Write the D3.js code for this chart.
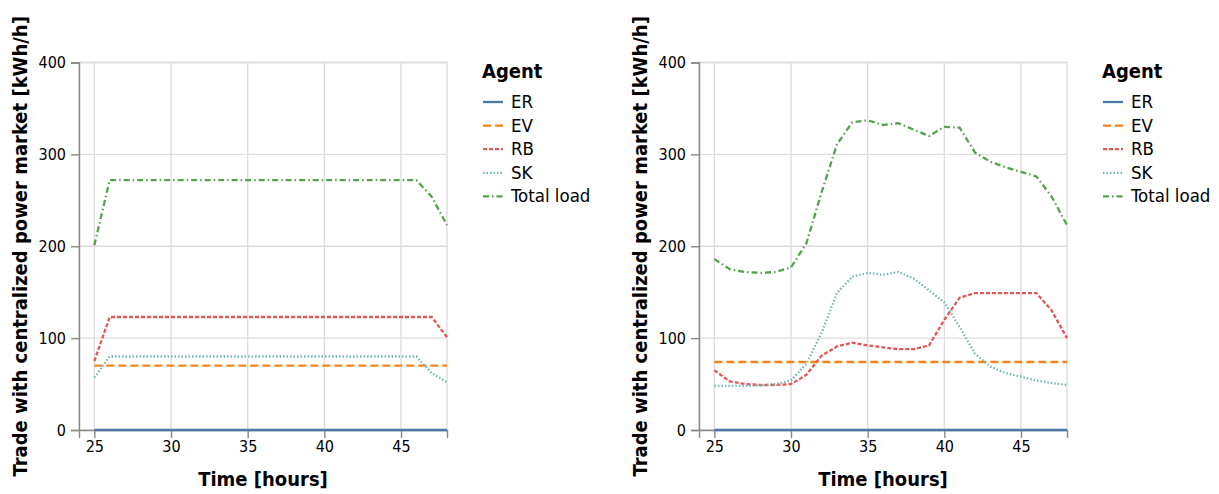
<!DOCTYPE html>
<html>
<head>
<meta charset="utf-8">
<script src="https://cdn.jsdelivr.net/npm/d3@7"></script>
<style>
  body { margin: 0; background: #fff; }
  svg { display: block; font-family: "DejaVu Sans Condensed", "DejaVu Sans", sans-serif; }
</style>
</head>
<body>
<svg id="chart" width="1219" height="494"></svg>
<script>
// hours on the x axis
const hours = [25, 26, 27, 28, 29, 30, 31, 32, 33, 34, 35, 36, 37, 38, 39, 40, 41, 42, 43, 44, 45, 46, 47, 48];
const agents = ["ER", "EV", "RB", "SK", "Total load"];

// left panel
const leftER = [0, 0, 0, 0, 0, 0, 0, 0, 0, 0, 0, 0, 0, 0, 0, 0, 0, 0, 0, 0, 0, 0, 0, 0];
const leftEV = [70, 70, 70, 70, 70, 70, 70, 70, 70, 70, 70, 70, 70, 70, 70, 70, 70, 70, 70, 70, 70, 70, 70, 70];
const leftRB = [75, 123, 123, 123, 123, 123, 123, 123, 123, 123, 123, 123, 123, 123, 123, 123, 123, 123, 123, 123, 123, 123, 123, 101];
const leftSK = [57, 80, 80, 80, 80, 80, 80, 80, 80, 80, 80, 80, 80, 80, 80, 80, 80, 80, 80, 80, 80, 80, 62, 52];
const leftTotal = [201, 272, 272, 272, 272, 272, 272, 272, 272, 272, 272, 272, 272, 272, 272, 272, 272, 272, 272, 272, 272, 272, 254, 223];

// right panel
const rightER = [0, 0, 0, 0, 0, 0, 0, 0, 0, 0, 0, 0, 0, 0, 0, 0, 0, 0, 0, 0, 0, 0, 0, 0];
const rightEV = [74, 74, 74, 74, 74, 74, 74, 74, 74, 74, 74, 74, 74, 74, 74, 74, 74, 74, 74, 74, 74, 74, 74, 74];
const rightRB = [65, 53, 50, 49, 49, 50, 60, 81, 91, 95, 92, 90, 88, 88, 92, 120, 144, 149, 149, 149, 149, 149, 130, 100];
const rightSK = [48, 48, 48, 48.5, 50, 54, 72, 106, 149, 167, 171, 169, 172, 165, 152, 139, 112, 83, 69, 62, 58, 54, 51, 49];
const rightTotal = [186, 175, 172, 171, 172, 177, 203, 259, 311, 335, 337, 332, 334, 327, 320, 330, 329, 302, 292, 286, 281, 276, 254, 223];

// styles
const colors = ["#4c78a8", "#f58518", "#e45756", "#72b7b2", "#54a24b"];
const dashes = [null, "8,4", "4,2", "1.5,2", "6,3,1.5,3"];

const panels = [
  {left: 79, series: [leftER, leftEV, leftRB, leftSK, leftTotal]},
  {left: 699, series: [rightER, rightEV, rightRB, rightSK, rightTotal]}
];

const marginTop = 62.5, width = 368, height = 367.5;

const svg = d3.select("#chart");

const allMax = d3.max(panels, p => d3.max(p.series, s => d3.max(s)));
const x = d3.scaleLinear().domain(d3.extent(hours)).range([0, width]).nice();
const y = d3.scaleLinear().domain([0, allMax]).range([height, 0]).nice(4);

panels.forEach(p => {
  const g = svg.append("g").attr("transform", `translate(${p.left},${marginTop})`);

  // grid
  g.append("g").selectAll("line").data(x.ticks(5)).join("line")
    .attr("x1", d => x(d)).attr("x2", d => x(d))
    .attr("y1", 0).attr("y2", height)
    .attr("stroke", "#ddd").attr("stroke-width", 1.4);
  g.append("g").selectAll("line").data(y.ticks(4)).join("line")
    .attr("y1", d => y(d)).attr("y2", d => y(d))
    .attr("x1", 0).attr("x2", width)
    .attr("stroke", "#ddd").attr("stroke-width", 1.4);
  g.append("rect").attr("width", width).attr("height", height)
    .attr("fill", "none").attr("stroke", "#ddd").attr("stroke-width", 1.4);

  // axes
  const xAxis = g.append("g").attr("transform", `translate(0,${height})`)
    .call(d3.axisBottom(x).ticks(5).tickSize(8).tickPadding(3));
  const yAxis = g.append("g")
    .call(d3.axisLeft(y).ticks(4).tickSize(8).tickPadding(5));
  [xAxis, yAxis].forEach(a => {
    a.attr("font-family", null);
    a.selectAll(".domain").attr("stroke", "#888").attr("stroke-width", 1.4);
    a.selectAll(".tick line").attr("stroke", "#888").attr("stroke-width", 1.4);
    a.selectAll(".tick text").attr("fill", "#000")
      .style("font-size", "16px");
  });

  // lines
  const line = d3.line().x((d, i) => x(hours[i])).y(d => y(d));
  p.series.forEach((s, k) => {
    g.append("path").datum(s)
      .attr("d", line)
      .attr("fill", "none")
      .attr("stroke", colors[k])
      .attr("stroke-width", 2.3)
      .attr("stroke-dasharray", dashes[k]);
  });

  // axis titles
  g.append("text")
    .attr("x", width / 2).attr("y", 423)
    .attr("text-anchor", "middle")
    .style("font-size", "20px").style("font-weight", "bold")
    .text("Time [hours]");
  g.append("text")
    .attr("transform", `translate(-52,${height / 2}) rotate(-90)`)
    .attr("text-anchor", "middle")
    .style("font-size", "20px").style("font-weight", "bold")
    .text("Trade with centralized power market [kWh/h]");

  // legend
  const lg = g.append("g").attr("transform", `translate(${width + 35},0)`);
  lg.append("text").attr("x", 0).attr("y", 15.5)
    .style("font-size", "20px").style("font-weight", "bold")
    .text("Agent");
  agents.forEach((name, k) => {
    const cy = 39.5 + k * 23.6;
    lg.append("line")
      .attr("x1", 1).attr("x2", 21).attr("y1", cy).attr("y2", cy)
      .attr("stroke", colors[k]).attr("stroke-width", 2.3)
      .attr("stroke-dasharray", dashes[k]);
    lg.append("text").attr("x", 29).attr("y", cy + 6)
      .style("font-size", "18.5px")
      .text(name);
  });
});
</script>
</body>
</html>
